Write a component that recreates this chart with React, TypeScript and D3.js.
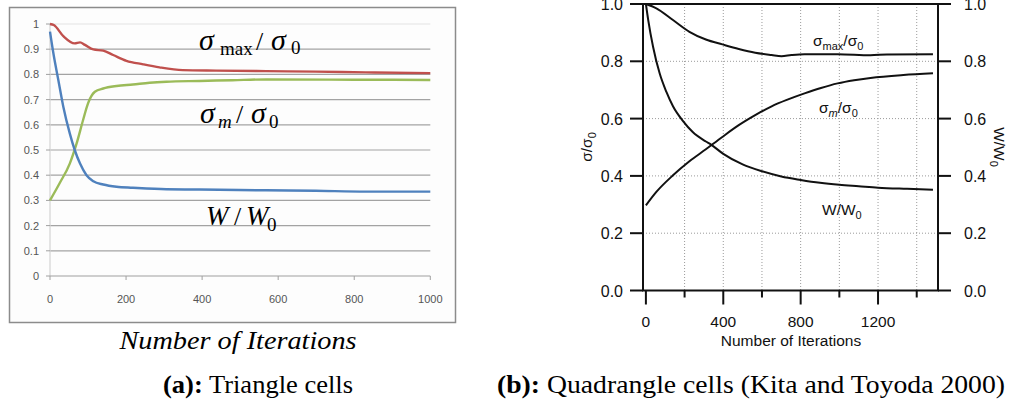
import React from "react";
import * as d3 from "d3";

// ---------- Panel (a) data: Triangle cells ----------
const aTicksX = [0, 200, 400, 600, 800, 1000];
const aTicksY = [0, 0.1, 0.2, 0.3, 0.4, 0.5, 0.6, 0.7, 0.8, 0.9, 1];
const aMaxIter = [0, 10, 35, 65, 79, 92, 114, 140, 166, 201, 245, 288, 349, 437, 568, 699, 830, 1000];
const aMaxVal = [1.0, 0.996, 0.952, 0.923, 0.927, 0.917, 0.899, 0.894, 0.877, 0.854, 0.84, 0.828, 0.817, 0.815, 0.813, 0.811, 0.808, 0.805];
const aMeanIter = [0, 26, 52, 70, 87, 100, 118, 140, 175, 218, 262, 306, 393, 480, 568, 800, 1000];
const aMeanVal = [0.3, 0.37, 0.446, 0.526, 0.619, 0.685, 0.731, 0.744, 0.754, 0.76, 0.767, 0.771, 0.774, 0.777, 0.78, 0.779, 0.778];
const aWIter = [0, 9, 22, 35, 52, 65, 79, 96, 114, 140, 175, 218, 306, 393, 568, 699, 830, 1000];
const aWVal = [0.97, 0.883, 0.777, 0.672, 0.566, 0.5, 0.446, 0.4, 0.376, 0.363, 0.354, 0.35, 0.344, 0.343, 0.34, 0.338, 0.335, 0.335];

// ---------- Panel (b) data: Quadrangle cells (Kita and Toyoda 2000) ----------
const bMajorX = [0, 400, 800, 1200];
const bMinorX = [200, 600, 1000, 1400];
const bTicksY = [0, 0.2, 0.4, 0.6, 0.8, 1.0];
const bMaxIter = [0, 54, 140, 225, 310, 395, 480, 565, 650, 701, 752, 820, 991, 1161, 1246, 1484];
const bMaxVal = [1.0, 0.985, 0.944, 0.903, 0.876, 0.859, 0.843, 0.83, 0.822, 0.818, 0.822, 0.825, 0.825, 0.821, 0.824, 0.825];
const bMeanIter = [0, 54, 140, 225, 310, 395, 480, 565, 650, 735, 820, 905, 991, 1076, 1161, 1331, 1484];
const bMeanVal = [0.297, 0.344, 0.402, 0.451, 0.493, 0.536, 0.577, 0.612, 0.643, 0.667, 0.688, 0.707, 0.723, 0.734, 0.742, 0.752, 0.758];
const bWIter = [0, 12, 37, 71, 106, 140, 191, 242, 310, 335, 400, 500, 600, 700, 800, 900, 1000, 1100, 1200, 1350, 1484];
const bWVal = [1.0, 0.944, 0.851, 0.758, 0.693, 0.643, 0.592, 0.553, 0.52, 0.51, 0.477, 0.44, 0.416, 0.398, 0.386, 0.376, 0.369, 0.364, 0.359, 0.355, 0.352];

const zip = (xs: number[], ys: number[]) => xs.map((x, i) => [x, ys[i]] as [number, number]);

export default function App() {
  // Panel (a) scales
  const ax = d3.scaleLinear().domain([0, 1000]).range([50, 430.3]);
  const ay = d3.scaleLinear().domain([0, 1]).range([276, 24]);
  const aLine = d3
    .line<[number, number]>()
    .x((d) => ax(d[0]))
    .y((d) => ay(d[1]))
    .curve(d3.curveMonotoneX);

  // Panel (b) scales
  const bx = d3.scaleLinear().domain([-15, 1510]).range([643, 938]);
  const by = d3.scaleLinear().domain([0, 1]).range([290.5, 4]);
  const bLine = d3
    .line<[number, number]>()
    .x((d) => bx(d[0]))
    .y((d) => by(d[1]))
    .curve(d3.curveMonotoneX);

  const serif = "'Liberation Serif', 'Times New Roman', serif";
  const sans = "'Liberation Sans', Arial, sans-serif";

  return (
    <svg
      width={1010}
      height={406}
      style={{ position: "absolute", left: 0, top: 0, background: "#fff" }}
    >
      {/* ================= Panel (a) ================= */}
      <rect x={9.5} y={7.5} width={446} height={315} fill="#fdfdfd" stroke="#8c8c8c" strokeWidth={1.5} />
      {aTicksY.filter((v) => v > 0).map((v) => (
        <line
          key={"ag" + v}
          x1={ax(0)}
          x2={ax(1000)}
          y1={ay(v)}
          y2={ay(v)}
          stroke={v === 1 ? "#e4e4e4" : "#a3a3a3"}
          strokeWidth={1.2}
        />
      ))}
      <line x1={ax(0)} x2={ax(0)} y1={ay(1)} y2={ay(0)} stroke="#d4d4d4" strokeWidth={1.2} />
      <line x1={ax(0)} x2={ax(1000)} y1={ay(0)} y2={ay(0)} stroke="#a0a0a0" strokeWidth={1.2} />
      {aTicksY.map((v) => (
        <g key={"ayt" + v}>
          <line x1={ax(0) - 4} x2={ax(0)} y1={ay(v)} y2={ay(v)} stroke="#a0a0a0" strokeWidth={1} />
          <text
            x={39}
            y={ay(v) + 4}
            textAnchor="end"
            fontFamily={sans}
            fontSize={11}
            fill="#555"
          >
            {String(v)}
          </text>
        </g>
      ))}
      {aTicksX.map((v) => (
        <g key={"axt" + v}>
          <line x1={ax(v)} x2={ax(v)} y1={ay(0)} y2={ay(0) + 4} stroke="#a0a0a0" strokeWidth={1} />
          <text x={ax(v)} y={303} textAnchor="middle" fontFamily={sans} fontSize={11} fill="#555">
            {v}
          </text>
        </g>
      ))}
      <path d={aLine(zip(aMaxIter, aMaxVal)) || ""} fill="none" stroke="#c0504d" strokeWidth={2.4} />
      <path d={aLine(zip(aMeanIter, aMeanVal)) || ""} fill="none" stroke="#9bbb59" strokeWidth={2.4} />
      <path d={aLine(zip(aWIter, aWVal)) || ""} fill="none" stroke="#4f81bd" strokeWidth={2.4} />

      {/* labels in panel (a) */}
      <g fontFamily={serif} fill="#000">
        <text x={199} y={50} fontSize={30} fontStyle="italic">σ</text>
        <text x={220} y={55} fontSize={19}>max</text>
        <text x={256} y={50} fontSize={26}>/</text>
        <text x={271} y={50} fontSize={30} fontStyle="italic">σ</text>
        <text x={291} y={54} fontSize={19}>0</text>

        <text x={200} y={123} fontSize={30} fontStyle="italic">σ</text>
        <text x={218} y={128} fontSize={19} fontStyle="italic">m</text>
        <text x={236} y={123} fontSize={26}>/</text>
        <text x={251} y={123} fontSize={30} fontStyle="italic">σ</text>
        <text x={269} y={128} fontSize={19}>0</text>

        <text x={206} y={225} fontSize={27} fontStyle="italic">W</text>
        <text x={234} y={225} fontSize={26}>/</text>
        <text x={246} y={225} fontSize={27} fontStyle="italic">W</text>
        <text x={267} y={231} fontSize={19}>0</text>
      </g>

      <text
        x={238}
        y={349}
        textAnchor="middle"
        fontFamily={serif}
        fontStyle="italic"
        fontSize={26}
        textLength={237}
        lengthAdjust="spacingAndGlyphs"
      >
        Number of Iterations
      </text>

      <text
        x={258}
        y={393}
        textAnchor="middle"
        fontFamily={serif}
        fontSize={25}
        textLength={190}
        lengthAdjust="spacingAndGlyphs"
      >
        <tspan fontWeight="bold">(a):</tspan> Triangle cells
      </text>

      {/* ================= Panel (b) ================= */}
      {bMinorX.concat(bMajorX.filter((v) => v > 0)).map((v) => (
        <line
          key={"bgx" + v}
          x1={bx(v)}
          x2={bx(v)}
          y1={by(1)}
          y2={by(0)}
          stroke="#9a9a9a"
          strokeWidth={1}
          strokeDasharray="1,2"
        />
      ))}
      {bTicksY.filter((v) => v > 0 && v < 1).map((v) => (
        <line
          key={"bgy" + v}
          x1={bx(-15)}
          x2={bx(1510)}
          y1={by(v)}
          y2={by(v)}
          stroke="#9a9a9a"
          strokeWidth={1}
          strokeDasharray="1,2"
        />
      ))}
      <rect
        x={bx(-15)}
        y={by(1)}
        width={bx(1510) - bx(-15)}
        height={by(0) - by(1)}
        fill="none"
        stroke="#111"
        strokeWidth={2}
      />
      {bTicksY.map((v) => (
        <g key={"byt" + v}>
          <line x1={bx(-15) - 13} x2={bx(-15)} y1={by(v)} y2={by(v)} stroke="#111" strokeWidth={2} />
          <line x1={bx(1510)} x2={bx(1510) + 13} y1={by(v)} y2={by(v)} stroke="#111" strokeWidth={2} />
          <text x={623} y={by(v) + 6} textAnchor="end" fontFamily={sans} fontSize={16} fill="#111">
            {v.toFixed(1)}
          </text>
          <text x={964} y={by(v) + 6} textAnchor="start" fontFamily={sans} fontSize={16} fill="#111">
            {v.toFixed(1)}
          </text>
        </g>
      ))}
      {bMajorX.map((v) => (
        <g key={"bxt" + v}>
          <line x1={bx(v)} x2={bx(v)} y1={by(0)} y2={by(0) + 14} stroke="#111" strokeWidth={2} />
          <text x={bx(v)} y={327} textAnchor="middle" fontFamily={sans} fontSize={15.5} fill="#111">
            {v}
          </text>
        </g>
      ))}
      {bMinorX.map((v) => (
        <line key={"bxm" + v} x1={bx(v)} x2={bx(v)} y1={by(0)} y2={by(0) + 7} stroke="#111" strokeWidth={2} />
      ))}
      <path d={bLine(zip(bMaxIter, bMaxVal)) || ""} fill="none" stroke="#111" strokeWidth={2} />
      <path d={bLine(zip(bMeanIter, bMeanVal)) || ""} fill="none" stroke="#111" strokeWidth={2} />
      <path d={bLine(zip(bWIter, bWVal)) || ""} fill="none" stroke="#111" strokeWidth={2} />

      <g fontFamily={sans} fill="#111">
        <text x={813} y={46} fontSize={15.5}>
          σ<tspan fontSize={11} dy={4}>max</tspan>
          <tspan dy={-4}>/σ</tspan>
          <tspan fontSize={11} dy={4}>0</tspan>
        </text>
        <text x={819} y={113} fontSize={15.5}>
          σ<tspan fontSize={11} dy={4} fontStyle="italic">m</tspan>
          <tspan dy={-4}>/σ</tspan>
          <tspan fontSize={11} dy={4}>0</tspan>
        </text>
        <text x={822} y={215} fontSize={15.5}>
          W/W<tspan fontSize={11} dy={4}>0</tspan>
        </text>
      </g>

      <text x={791} y={346} textAnchor="middle" fontFamily={sans} fontSize={15.5} fill="#111">
        Number of Iterations
      </text>
      <text
        transform={`translate(592, 147) rotate(-90)`}
        textAnchor="middle"
        fontFamily={sans}
        fontSize={15.5}
        fill="#111"
      >
        σ/σ<tspan fontSize={11} dy={4}>0</tspan>
      </text>
      <text
        transform={`translate(994, 147) rotate(90)`}
        textAnchor="middle"
        fontFamily={sans}
        fontSize={15.5}
        fill="#111"
      >
        W/W<tspan fontSize={11} dy={4}>0</tspan>
      </text>

      <text
        x={751}
        y={393}
        textAnchor="middle"
        fontFamily={serif}
        fontSize={25}
        textLength={508}
        lengthAdjust="spacingAndGlyphs"
      >
        <tspan fontWeight="bold">(b):</tspan> Quadrangle cells (Kita and Toyoda 2000)
      </text>
    </svg>
  );
}
